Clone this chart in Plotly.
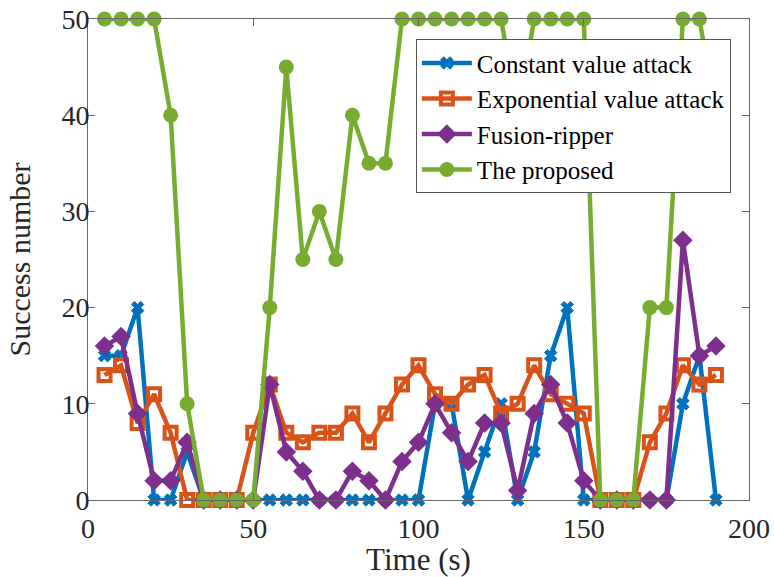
import plotly.graph_objects as go

time_s = [5, 10, 15, 20, 25, 30, 35, 40, 45, 50, 55, 60, 65, 70, 75, 80, 85, 90, 95, 100,
          105, 110, 115, 120, 125, 130, 135, 140, 145, 150, 155, 160, 165, 170, 175, 180, 185, 190]

constant_value = [15, 15, 20, 0, 0, 5, 0, 0, 0, 0, 0, 0, 0, 0, 0, 0, 0, 0, 0, 0,
                  10, 10, 0, 5, 10, 0, 5, 15, 20, 0, 0, 0, 0, 0, 0, 10, 15, 0]
exponential_value = [13, 14, 8, 11, 7, 0, 0, 0, 0, 7, 12, 7, 6, 7, 7, 9, 6, 9, 12, 14,
                     11, 10, 12, 13, 9, 10, 14, 11, 10, 9, 0, 0, 0, 6, 9, 14, 12, 13]
fusion_ripper = [16, 17, 9, 2, 2, 6, 0, 0, 0, 0, 12, 5, 3, 0, 0, 3, 2, 0, 4, 6,
                 10, 7, 4, 8, 8, 1, 9, 12, 8, 2, 0, 0, 0, 0, 0, 27, 15, 16]
proposed = [50, 50, 50, 50, 40, 10, 0, 0, 0, 0, 20, 45, 25, 30, 25, 40, 35, 35, 50, 50,
            50, 50, 50, 50, 50, 40, 50, 50, 50, 50, 0, 0, 0, 20, 20, 50, 50, 40]

names = ["Constant value attack", "Exponential value attack", "Fusion-ripper", "The proposed"]
colors = ["#0072BD", "#D95319", "#7E2F8E", "#77AC30"]

FONT = "Liberation Serif"
LW = 4.5

fig = go.Figure()
fig.add_trace(go.Scatter(x=time_s, y=constant_value, name=names[0], mode="lines+markers",
                         line=dict(color=colors[0], width=LW),
                         marker=dict(symbol="x", size=11, color=colors[0],
                                     line=dict(width=1, color=colors[0])),
                         cliponaxis=False))
fig.add_trace(go.Scatter(x=time_s, y=exponential_value, name=names[1], mode="lines+markers",
                         line=dict(color=colors[1], width=LW),
                         marker=dict(symbol="square-open", size=12, color=colors[1],
                                     line=dict(width=4, color=colors[1])),
                         cliponaxis=False))
fig.add_trace(go.Scatter(x=time_s, y=fusion_ripper, name=names[2], mode="lines+markers",
                         line=dict(color=colors[2], width=LW),
                         marker=dict(symbol="diamond", size=15, color=colors[2]),
                         cliponaxis=False))
fig.add_trace(go.Scatter(x=time_s, y=proposed, name=names[3], mode="lines+markers",
                         line=dict(color=colors[3], width=LW),
                         marker=dict(symbol="circle", size=15, color=colors[3]),
                         cliponaxis=False))

axis_common = dict(
    showgrid=False, zeroline=False, showline=True, linecolor="#666666", linewidth=1,
    mirror="ticks", ticks="inside", ticklen=7, tickcolor="#666666", automargin=False,
    tickfont=dict(family=FONT, size=28, color="#262626"),
)

fig.update_layout(
    width=774, height=577,
    margin=dict(l=88, r=25, t=19, b=77),
    paper_bgcolor="white", plot_bgcolor="white",
    font=dict(family=FONT, color="#262626"),
    xaxis=dict(range=[0, 200], tickvals=[0, 50, 100, 150, 200], ticklabelstandoff=3,
               title=dict(text="Time (s)", font=dict(family=FONT, size=31, color="#262626"),
                          standoff=0),
               **axis_common),
    yaxis=dict(range=[0, 50], tickvals=[0, 10, 20, 30, 40, 50], ticklabelstandoff=-8,
               title=dict(text="Success number", font=dict(family=FONT, size=30, color="#262626"),
                          standoff=21),
               **axis_common),
    legend=dict(x=0.496, y=0.958, xanchor="left", yanchor="top",
                bgcolor="white", bordercolor="#555555", borderwidth=1,
                font=dict(family=FONT, size=25, color="black"),
                tracegroupgap=0, itemwidth=50),
    showlegend=True,
)

fig.write_html("out.html")
